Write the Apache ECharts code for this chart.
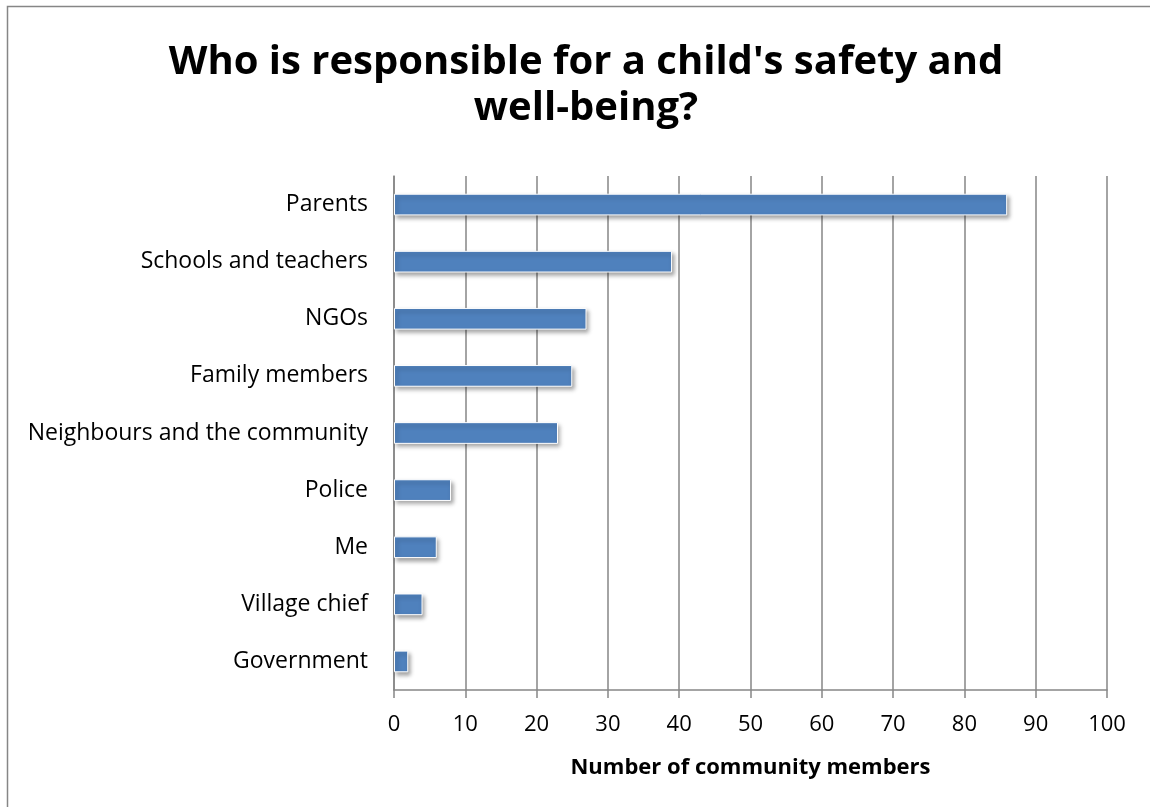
<!DOCTYPE html>
<html>
<head>
<meta charset="utf-8">
<title>Who is responsible for a child's safety and well-being?</title>
<script src="https://cdn.jsdelivr.net/npm/echarts@6/dist/echarts.min.js"></script>
<style>
  html, body { margin: 0; padding: 0; background: #ffffff; }
  #chart { width: 1150px; height: 807px; }
</style>
</head>
<body>
<div id="chart"></div>
<script>
// Survey answers, listed top to bottom as shown on the chart
const categories = [
  'Parents',
  'Schools and teachers',
  'NGOs',
  'Family members',
  'Neighbours and the community',
  'Police',
  'Me',
  'Village chief',
  'Government'
];
const memberCounts = [86, 39, 27, 25, 23, 8, 6, 4, 2];
const xTicks = { min: 0, max: 100, interval: 10 };

const FONT = '"Open Sans", "Liberation Sans", sans-serif';

const chart = echarts.init(document.getElementById('chart'), null, { renderer: 'canvas' });

chart.setOption({
  backgroundColor: '#ffffff',
  animation: false,
  title: {
    text: "Who is responsible for a child's safety and\nwell-being?",
    left: 581,
    top: 35,
    textAlign: 'center',
    textStyle: {
      fontFamily: FONT,
      fontWeight: 'bold',
      fontSize: 40,
      lineHeight: 46,
      color: '#000000'
    }
  },
  graphic: [{
    type: 'rect',
    shape: { x: 7.5, y: 6.5, width: 1200, height: 900 },
    style: { fill: 'none', stroke: '#868686', lineWidth: 1.5 },
    silent: true,
    z: -1
  }],
  grid: {
    left: 394,
    right: 43,
    top: 176,
    bottom: 117,
    containLabel: false
  },
  xAxis: {
    type: 'value',
    min: xTicks.min,
    max: xTicks.max,
    interval: xTicks.interval,
    name: 'Number of community members',
    nameLocation: 'middle',
    nameGap: 67,
    nameTextStyle: {
      fontFamily: FONT,
      fontWeight: 'bold',
      fontSize: 22,
      color: '#000000'
    },
    axisLine: { show: true, lineStyle: { color: '#868686', width: 1.5 } },
    axisTick: { show: true, length: 8, lineStyle: { color: '#868686', width: 1.5 } },
    axisLabel: {
      margin: 24,
      fontFamily: FONT,
      fontSize: 22,
      color: '#000000'
    },
    splitLine: { show: true, lineStyle: { color: '#868686', width: 1.5 } }
  },
  yAxis: {
    type: 'category',
    data: categories,
    inverse: true,
    axisLine: { show: true, lineStyle: { color: '#868686', width: 1.5 } },
    axisTick: { show: false },
    axisLabel: {
      margin: 26,
      padding: [5, 0, 0, 0],
      fontFamily: FONT,
      fontSize: 23,
      color: '#000000'
    },
    splitLine: { show: false }
  },
  series: [{
    type: 'bar',
    data: memberCounts,
    barWidth: '38%',
    itemStyle: {
      color: '#4F81BD',
      borderColor: '#ffffff',
      borderWidth: 1,
      shadowColor: 'rgba(0, 0, 0, 0.35)',
      shadowBlur: 4,
      shadowOffsetX: 2,
      shadowOffsetY: 3
    },
    silent: true
  }]
});
</script>
</body>
</html>
